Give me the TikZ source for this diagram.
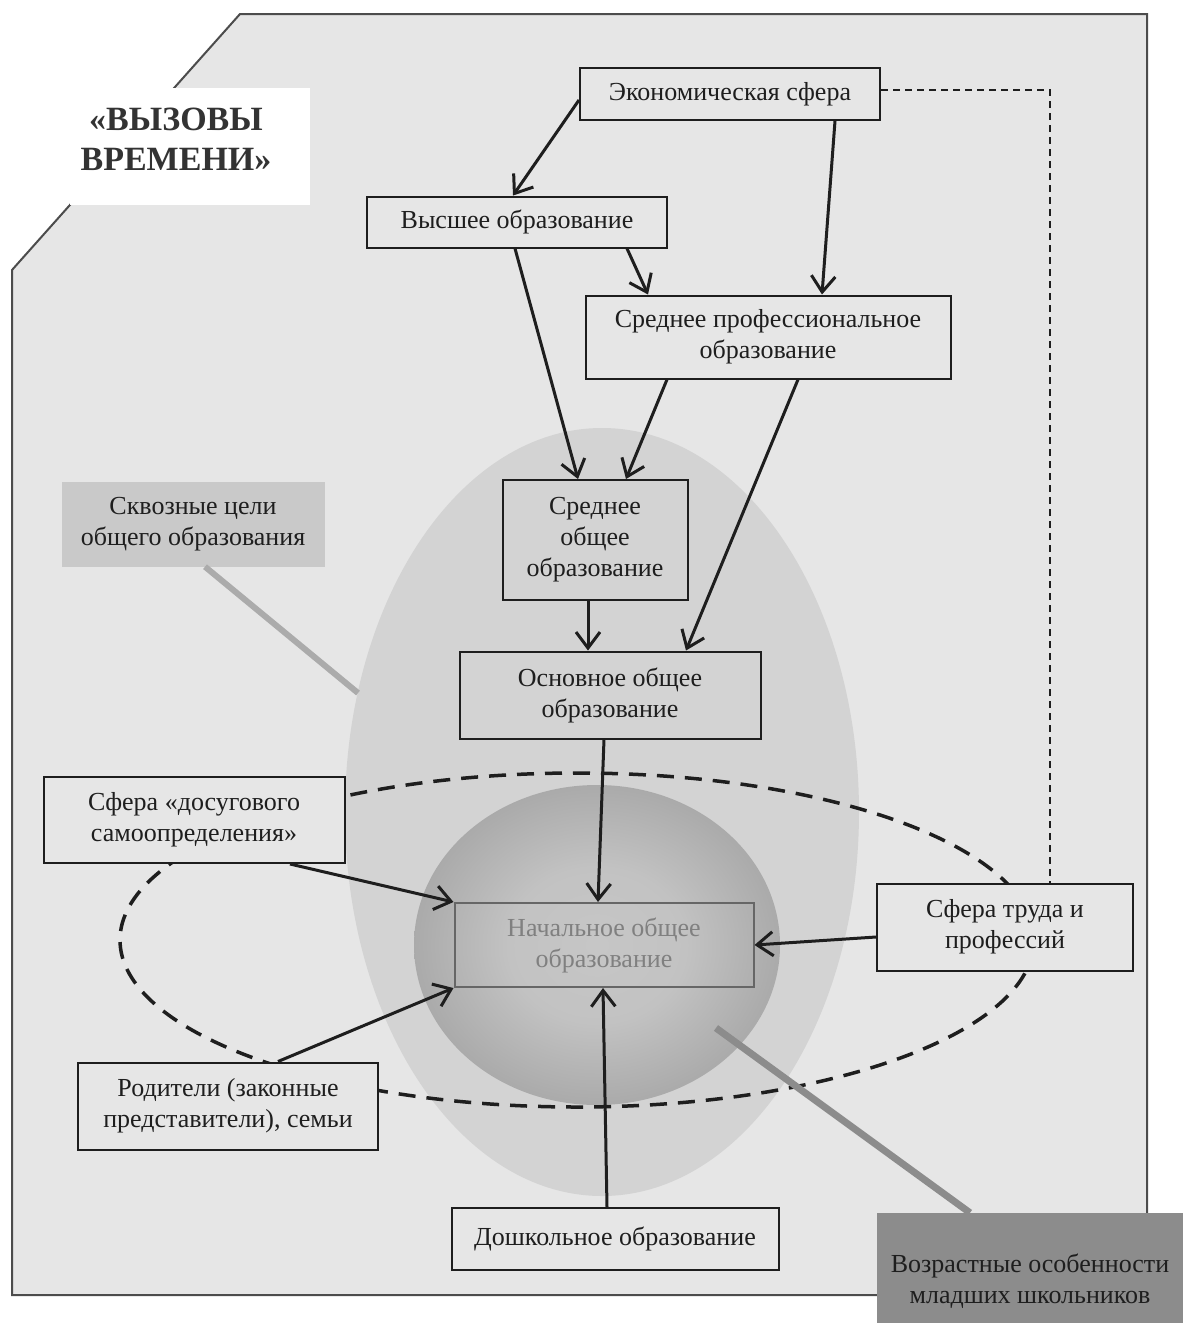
\documentclass[tikz,border=0pt]{standalone}
\usepackage{fontspec}
\setmainfont{Liberation Serif}
\usetikzlibrary{arrows.meta}
\definecolor{bggray}{HTML}{E6E6E6}
\definecolor{ovalgray}{HTML}{D3D3D3}
\definecolor{spherelight}{HTML}{C6C6C6}
\definecolor{spheredark}{HTML}{7C7C7C}
\definecolor{skvozgray}{HTML}{C9C9C9}
\definecolor{vozrgray}{HTML}{8C8C8C}
\definecolor{inkgray}{HTML}{1E1E1E}
\pgfdeclareradialshading{spheregrad}{\pgfpoint{0bp}{0bp}}{color(0bp)=(spherelight); color(12bp)=(spherelight!95!spheredark); color(50bp)=(spheredark); color(70bp)=(spheredark)}
\begin{document}
\begin{tikzpicture}[x=1pt,y=-1pt,
  every node/.style={align=center,inner sep=0pt,text=inkgray,font=\fontsize{26pt}{31pt}\selectfont},
  box/.style={draw=inkgray,line width=2pt,fill=bggray},
  arr/.style={draw=inkgray,line width=3pt,-{Straight Barb[length=16pt,width=24pt]}}]
\useasboundingbox (0,0) rectangle (1183,1323);
\draw[fill=bggray,draw=black!70,line width=2pt] (240,14) -- (1147,14) -- (1147,1295) -- (12,1295) -- (12,270) -- cycle;
\fill[white] (70,88) rectangle (310,205);
\node[font=\fontsize{34pt}{40pt}\selectfont\bfseries,text=black!80] (title) at (176,139) {«ВЫЗОВЫ\\ВРЕМЕНИ»};
\fill[ovalgray] (602,812) ellipse [x radius=257pt,y radius=384pt];
\shade[shading=spheregrad] (597,945) ellipse [x radius=183pt,y radius=160pt];
\draw[inkgray,line width=3.5pt,dash pattern=on 17pt off 11pt] (577,940) ellipse [x radius=457pt,y radius=167pt];
\node[box,minimum width=300pt,minimum height=52pt] (econ) at (730,94) {Экономическая сфера};
\node[box,minimum width=300pt,minimum height=51pt] (vyssh) at (517,222) {Высшее образование};
\node[box,minimum width=365pt,minimum height=83pt] (spo) at (768,337) {Среднее профессиональное\\образование};
\node[box,fill=none,minimum width=185pt,minimum height=120pt] (sred) at (595,540) {Среднее\\общее\\образование};
\node[box,fill=none,minimum width=301pt,minimum height=87pt] (osn) at (610,695) {Основное общее\\образование};
\node[box,fill=none,draw=black!60,text=black!50,minimum width=299pt,minimum height=84pt] (nach) at (604,945) {Начальное общее\\образование};
\node[box,minimum width=301pt,minimum height=86pt] (dosug) at (194,820) {Сфера «досугового\\самоопределения»};
\node[box,minimum width=256pt,minimum height=87pt] (trud) at (1005,927) {Сфера труда и\\профессий};
\node[box,minimum width=300pt,minimum height=87pt] (rod) at (228,1106) {Родители (законные\\представители), семьи};
\node[box,minimum width=327pt,minimum height=62pt] (dosh) at (615,1239) {Дошкольное образование};
\node[fill=skvozgray,minimum width=263pt,minimum height=85pt] (skvoz) at (193,524) {Сквозные цели\\общего образования};
\node[fill=vozrgray,minimum width=306pt,minimum height=136pt] (vozr) at (1030,1281) {Возрастные особенности\\младших школьников};
\coordinate (skvozend) at (358,693);
\coordinate (vozrend) at (716,1028);
\draw[skvozgray!85!black,line width=6pt] ([xshift=12pt]skvoz.south) -- (skvozend);
\draw[vozrgray,line width=7pt] (vozrend) -- ([xshift=-60pt]vozr.north);
\draw[arr] ([yshift=-6pt]econ.west) -- ([xshift=-4pt]vyssh.north);
\draw[arr] ([xshift=105pt]econ.south) -- ([xshift=54pt]spo.north);
\draw[arr] ([xshift=110pt]vyssh.south) -- ([xshift=-120pt]spo.north);
\draw[arr] ([xshift=-2pt]vyssh.south) -- ([xshift=-17pt]sred.north);
\draw[arr] ([xshift=-101pt]spo.south) -- ([xshift=31pt]sred.north);
\draw[arr] ([xshift=30pt]spo.south) -- ([xshift=76pt]osn.north);
\draw[arr] ([xshift=-7pt]sred.south) -- ([xshift=-22pt]osn.north);
\draw[arr] ([xshift=-6pt]osn.south) -- ([xshift=-6pt]nach.north);
\draw[arr] ([xshift=96pt]dosug.south) -- (nach.north west);
\draw[arr] ([xshift=50pt]rod.north) -- (nach.south west);
\draw[arr] ([yshift=-10pt]trud.west) -- (nach.east);
\draw[arr] ([xshift=-8pt]dosh.north) -- ([xshift=-1pt]nach.south);
\draw[inkgray,line width=1.5pt,dash pattern=on 7pt off 5pt] ([yshift=4pt]econ.east) -| ([xshift=45pt]trud.north);
\end{tikzpicture}
\end{document}
